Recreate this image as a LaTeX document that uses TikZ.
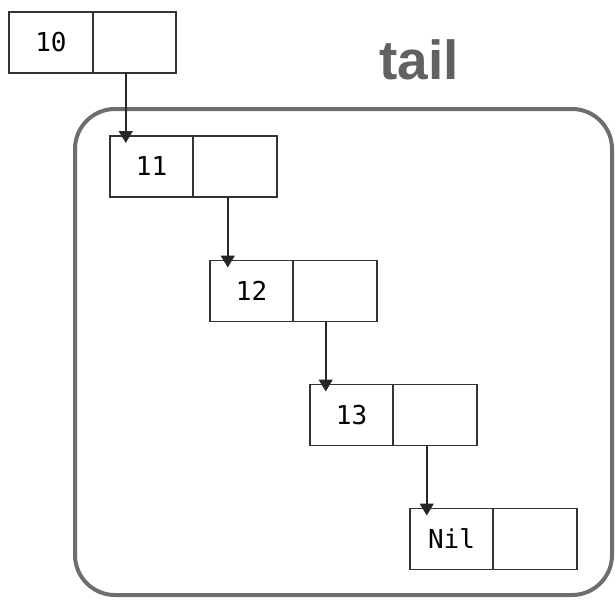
\documentclass[tikz,border=0pt]{standalone}
\usepackage{fontspec}
\setmonofont{DejaVu Sans Mono}
\newfontfamily\labelfont{Liberation Sans}
\usetikzlibrary{positioning,arrows.meta}

\begin{document}
\begin{tikzpicture}[x=1pt,y=-1pt,
    ptr/.style={draw=black!85, line width=1.6pt, -{Triangle[width=14pt,length=12pt]}}]

        \useasboundingbox (0,0) rectangle (616,602);

        % the tail of the list
        \draw[line width=4pt, draw=black!57, rounded corners=40pt] (75,109) rectangle (612,595);
        \node[text=black!62, font=\labelfont\bfseries\fontsize{55}{55}\selectfont] (tail) at (419,60) {tail};

        \begin{scope}[every node/.style={draw=black!80, line width=1.6pt, minimum width=83.5pt,
            minimum height=61pt, inner sep=0pt, outer sep=0pt, font=\ttfamily\fontsize{26}{26}\selectfont}]
          \node (v10)  at (51,42.5)    {10};
          \node (p10)  [right=0pt of v10] {};
          \node (v11)  at (151.5,166.5) {11};
          \node (p11)  [right=0pt of v11] {};
          \node (v12)  at (251.5,291)  {12};
          \node (p12)  [right=0pt of v12] {};
          \node (v13)  at (351.5,415)  {13};
          \node (p13)  [right=0pt of v13] {};
          \node (vnil) at (451.5,539)  {Nil};
          \node (pnil) [right=0pt of vnil] {};
        \end{scope}

        % pointers
        \path (v11.north west)  ++(16,7) coordinate (t11);
        \path (v12.north west)  ++(18,7) coordinate (t12);
        \path (v13.north west)  ++(16,7) coordinate (t13);
        \path (vnil.north west) ++(17,7) coordinate (tnil);

        \draw[ptr] (t11 |- p10.south) -- (t11);
        \draw[ptr] (t12 |- p11.south) -- (t12);
        \draw[ptr] (t13 |- p12.south) -- (t13);
        \draw[ptr] (tnil |- p13.south) -- (tnil);

      \end{tikzpicture}
\end{document}
